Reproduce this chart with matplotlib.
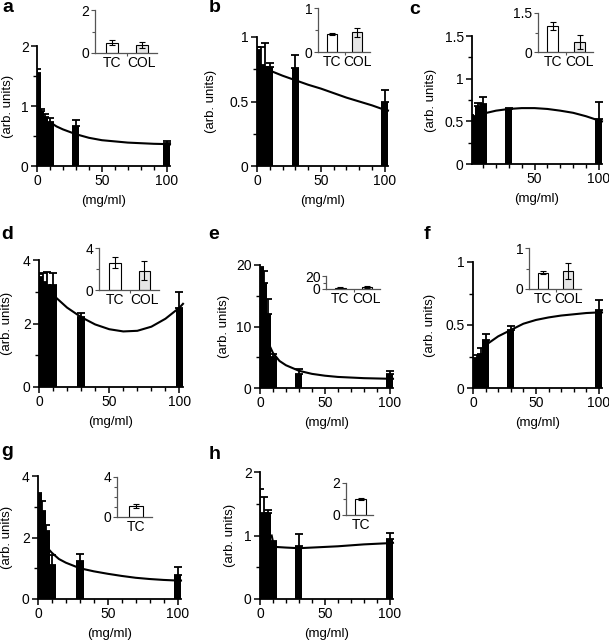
import matplotlib.pyplot as plt
from matplotlib.ticker import MultipleLocator, FixedLocator

plt.rcParams['font.family'] = ['Liberation Sans', 'DejaVu Sans']
plt.rcParams['font.size'] = 8.5

W, H = 609, 640

# concentrations (mg/ml)
conc = [0, 3, 6, 10, 30, 100]

a_mean = [1.55, 0.92, 0.82, 0.74, 0.66, 0.39]
a_err = [0.07, 0.03, 0.04, 0.06, 0.1, 0.03]
a_fit_x = [10, 15, 20, 30, 40, 50, 60, 70, 80, 90, 100, 102.5]
a_fit_y = [0.73, 0.66, 0.61, 0.53, 0.47, 0.43, 0.41, 0.39, 0.38, 0.37, 0.365, 0.36]
a_ins = [0.48, 0.38]
a_ins_err = [0.11, 0.14]

b_mean = [0.9, 0.78, 0.77, 0.77, 0.76, 0.5]
b_err = [0.02, 0.14, 0.18, 0.03, 0.1, 0.09]
b_fit_x = [10, 20, 30, 40, 50, 60, 70, 80, 90, 100, 102.5]
b_fit_y = [0.74, 0.70, 0.665, 0.63, 0.6, 0.565, 0.53, 0.5, 0.47, 0.435, 0.43]
b_ins = [0.41, 0.45]
b_ins_err = [0.02, 0.1]

c_mean = [0.56, 0.55, 0.68, 0.7, 0.65, 0.53]
c_err = [0.01, 0.01, 0.03, 0.08, 0.01, 0.2]
c_fit_x = [5, 10, 20, 30, 40, 50, 60, 70, 80, 90, 100, 102.5]
c_fit_y = [0.56, 0.59, 0.625, 0.645, 0.655, 0.655, 0.645, 0.625, 0.6, 0.56, 0.51, 0.5]
c_ins = [1.0, 0.38]
c_ins_err = [0.17, 0.27]

d_mean = [3.45, 3.3, 3.2, 3.22, 2.2, 2.5]
d_err = [0.1, 0.3, 0.42, 0.38, 0.13, 0.5]
d_fit_x = [10, 20, 30, 40, 50, 60, 70, 80, 90, 100, 102.5]
d_fit_y = [2.9, 2.5, 2.2, 1.97, 1.82, 1.75, 1.77, 1.9, 2.15, 2.5, 2.62]
d_ins = [2.6, 1.83]
d_ins_err = [0.55, 0.9]

e_mean = [19.5, 17, 12, 5, 2.2, 2.2]
e_err = [0.2, 2, 2.5, 0.6, 0.9, 0.6]
e_fit_x = [8, 10, 15, 20, 30, 40, 50, 60, 70, 80, 90, 100, 102.5]
e_fit_y = [6.6, 5.7, 4.4, 3.7, 2.8, 2.3, 2.0, 1.8, 1.7, 1.6, 1.55, 1.5, 1.5]
e_ins = [2.1, 3.6]
e_ins_err = [0.3, 1.7]

f_mean = [0.19, 0.24, 0.27, 0.38, 0.46, 0.62]
f_err = [0.01, 0.02, 0.05, 0.05, 0.03, 0.08]
f_fit_x = [10, 20, 30, 40, 50, 60, 70, 80, 90, 100, 102.5]
f_fit_y = [0.34, 0.41, 0.46, 0.51, 0.54, 0.56, 0.575, 0.585, 0.595, 0.6, 0.6]
f_ins = [0.4, 0.44]
f_ins_err = [0.04, 0.2]

g_mean = [3.4, 2.85, 2.2, 1.1, 1.25, 0.78]
g_err = [0.05, 0.35, 0.2, 0.33, 0.2, 0.27]
g_fit_x = [8, 10, 15, 20, 30, 40, 50, 60, 70, 80, 90, 100, 102.5]
g_fit_y = [1.6, 1.5, 1.3, 1.18, 1.0, 0.9, 0.82, 0.75, 0.69, 0.65, 0.62, 0.6, 0.6]
g_ins = [1.08]
g_ins_err = [0.2]

h_mean = [1.32, 1.35, 1.35, 0.9, 0.83, 0.95]
h_err = [0.41, 0.25, 0.05, 0.02, 0.19, 0.09]
h_fit_x = [9, 10, 12, 20, 30, 40, 50, 60, 70, 80, 90, 100, 102.5]
h_fit_y = [1.0, 0.9, 0.82, 0.81, 0.8, 0.81, 0.82, 0.83, 0.845, 0.86, 0.87, 0.88, 0.885]
h_ins = [0.99]
h_ins_err = [0.08]

ins_labels = ['TC', 'COL']
ins_colors = ['white', '#e6e6e6']

# layout in pixels: main (left, right, top, bottom), ylim, major, minor, xmin,
# inset box, inset ticks, letter position, ylabel offset
panels = [
    ('a', a_mean, a_err, a_fit_x, a_fit_y, a_ins, a_ins_err,
     (37, 170, 46, 166), 2, [0, 1, 2], [0.5, 1.5], 0,
     (95, 157, 10, 53), [0, 2], [1], (2, 12), 29),
    ('b', b_mean, b_err, b_fit_x, b_fit_y, b_ins, b_ins_err,
     (257, 388, 37, 166), 1, [0, 0.5, 1], [0.25, 0.75], 0,
     (318, 370, 8, 52), [0, 1], [0.5], (209, 12), 46),
    ('c', c_mean, c_err, c_fit_x, c_fit_y, c_ins, c_ins_err,
     (472, 602, 36, 164), 1.5, [0, 0.5, 1, 1.5], [0.25, 0.75, 1.25], 1.3,
     (538, 593, 13, 52), [0, 1.5], [0.75], (409, 14), 41),
    ('d', d_mean, d_err, d_fit_x, d_fit_y, d_ins, d_ins_err,
     (39, 183, 260, 387), 4, [0, 2, 4], [1, 3], 0,
     (99, 159, 248, 290), [0, 4], [2], (1, 239), 32),
    ('e', e_mean, e_err, e_fit_x, e_fit_y, e_ins, e_ins_err,
     (260, 393, 265, 388), 20, [0, 10, 20], [5, 15], 0,
     (326, 380, 276, 289), [0, 20], [10], (208, 239), 36),
    ('f', f_mean, f_err, f_fit_x, f_fit_y, f_ins, f_ins_err,
     (473, 602, 262, 388), 1, [0, 0.5, 1], [0.25, 0.75], 0,
     (529, 581, 248, 289), [0, 1], [0.5], (424, 239), 43),
    ('g', g_mean, g_err, g_fit_x, g_fit_y, g_ins, g_ins_err,
     (38, 181, 476, 599), 4, [0, 2, 4], [1, 3], 0,
     (117, 152, 477, 517), [0, 4], [1, 2, 3], (1, 456), 31),
    ('h', h_mean, h_err, h_fit_x, h_fit_y, h_ins, h_ins_err,
     (260, 393, 472, 599), 2, [0, 1, 2], [0.5, 1.5], 0,
     (346, 373, 483, 515), [0, 2], [1], (209, 459), 30),
]


def px_box(l, r, t, b):
    return [l / W, 1 - b / H, (r - l) / W, (b - t) / H]


fig = plt.figure(figsize=(W / 100, H / 100), dpi=100)

for (letter, mean, err, fx, fy, ins, ins_err, box, ymax, major, minor, xmin,
     ibox, imajor, iminor, lpos, ylab_off) in panels:
    ax = fig.add_axes(px_box(*box))
    ax.bar(conc, mean, width=5.5, color='black', zorder=2)
    ax.errorbar(conc, mean, yerr=[[0] * len(err), err], fmt='none',
                ecolor='black', elinewidth=1.3, capsize=3, capthick=1.3, zorder=2)
    ax.plot(fx, fy, color='black', lw=1.5, zorder=3, clip_on=False)
    ax.set_xlim(xmin, 102.5)
    ax.set_ylim(0, ymax)
    ax.yaxis.set_major_locator(FixedLocator(major))
    ax.yaxis.set_minor_locator(FixedLocator(minor))
    ax.set_yticklabels([f'{v:g}' for v in major])
    ax.xaxis.set_major_locator(FixedLocator([0, 50, 100]))
    ax.xaxis.set_minor_locator(MultipleLocator(10))
    for s in ['top', 'right']:
        ax.spines[s].set_visible(False)
    for s in ['left', 'bottom']:
        ax.spines[s].set_linewidth(1.3)
    ax.tick_params(which='major', length=4, width=1.1, pad=2, labelsize=10)
    ax.tick_params(which='minor', length=3, width=1.0)
    ax.set_xlabel('(mg/ml)', fontsize=9.5, labelpad=5)
    cy = (box[2] + box[3]) / 2
    fig.text((box[0] - ylab_off) / W, 1 - cy / H, '(arb. units)', rotation=90,
             ha='center', va='center', fontsize=9.5)
    fig.text(lpos[0] / W, 1 - lpos[1] / H, letter, fontsize=14,
             fontweight='bold', ha='left', va='baseline')

    iax = fig.add_axes(px_box(*ibox))
    ipos = list(range(len(ins)))
    iax.bar(ipos, ins, width=0.4, color=ins_colors[:len(ins)],
            edgecolor='black', linewidth=0.8)
    iax.errorbar(ipos, ins, yerr=ins_err, fmt='none', ecolor='black',
                 elinewidth=0.8, capsize=2, capthick=0.8)
    if len(ins) == 2:
        iax.set_xlim(-0.55, 1.5)
        iax.xaxis.set_minor_locator(FixedLocator([0.5]))
    else:
        iax.set_xlim(-0.55, 0.45)
    iax.set_xticks(ipos)
    iax.set_xticklabels(ins_labels[:len(ins)])
    iax.set_ylim(0, imajor[-1])
    iax.yaxis.set_major_locator(FixedLocator(imajor))
    iax.yaxis.set_minor_locator(FixedLocator(iminor))
    iax.set_yticklabels([f'{v:g}' for v in imajor])
    for s in ['top', 'right']:
        iax.spines[s].set_visible(False)
    for s in ['left', 'bottom']:
        iax.spines[s].set_color('#555555')
        iax.spines[s].set_linewidth(0.9)
    iax.tick_params(axis='y', which='major', length=3, width=0.8, pad=1,
                    labelsize=10, color='#555555')
    iax.tick_params(axis='y', which='minor', length=2, width=0.8, color='#555555')
    iax.tick_params(axis='x', which='major', length=0, pad=2, labelsize=10)
    iax.tick_params(axis='x', which='minor', length=2, width=0.8, color='#555555')

fig.savefig('out.png', dpi=100)
